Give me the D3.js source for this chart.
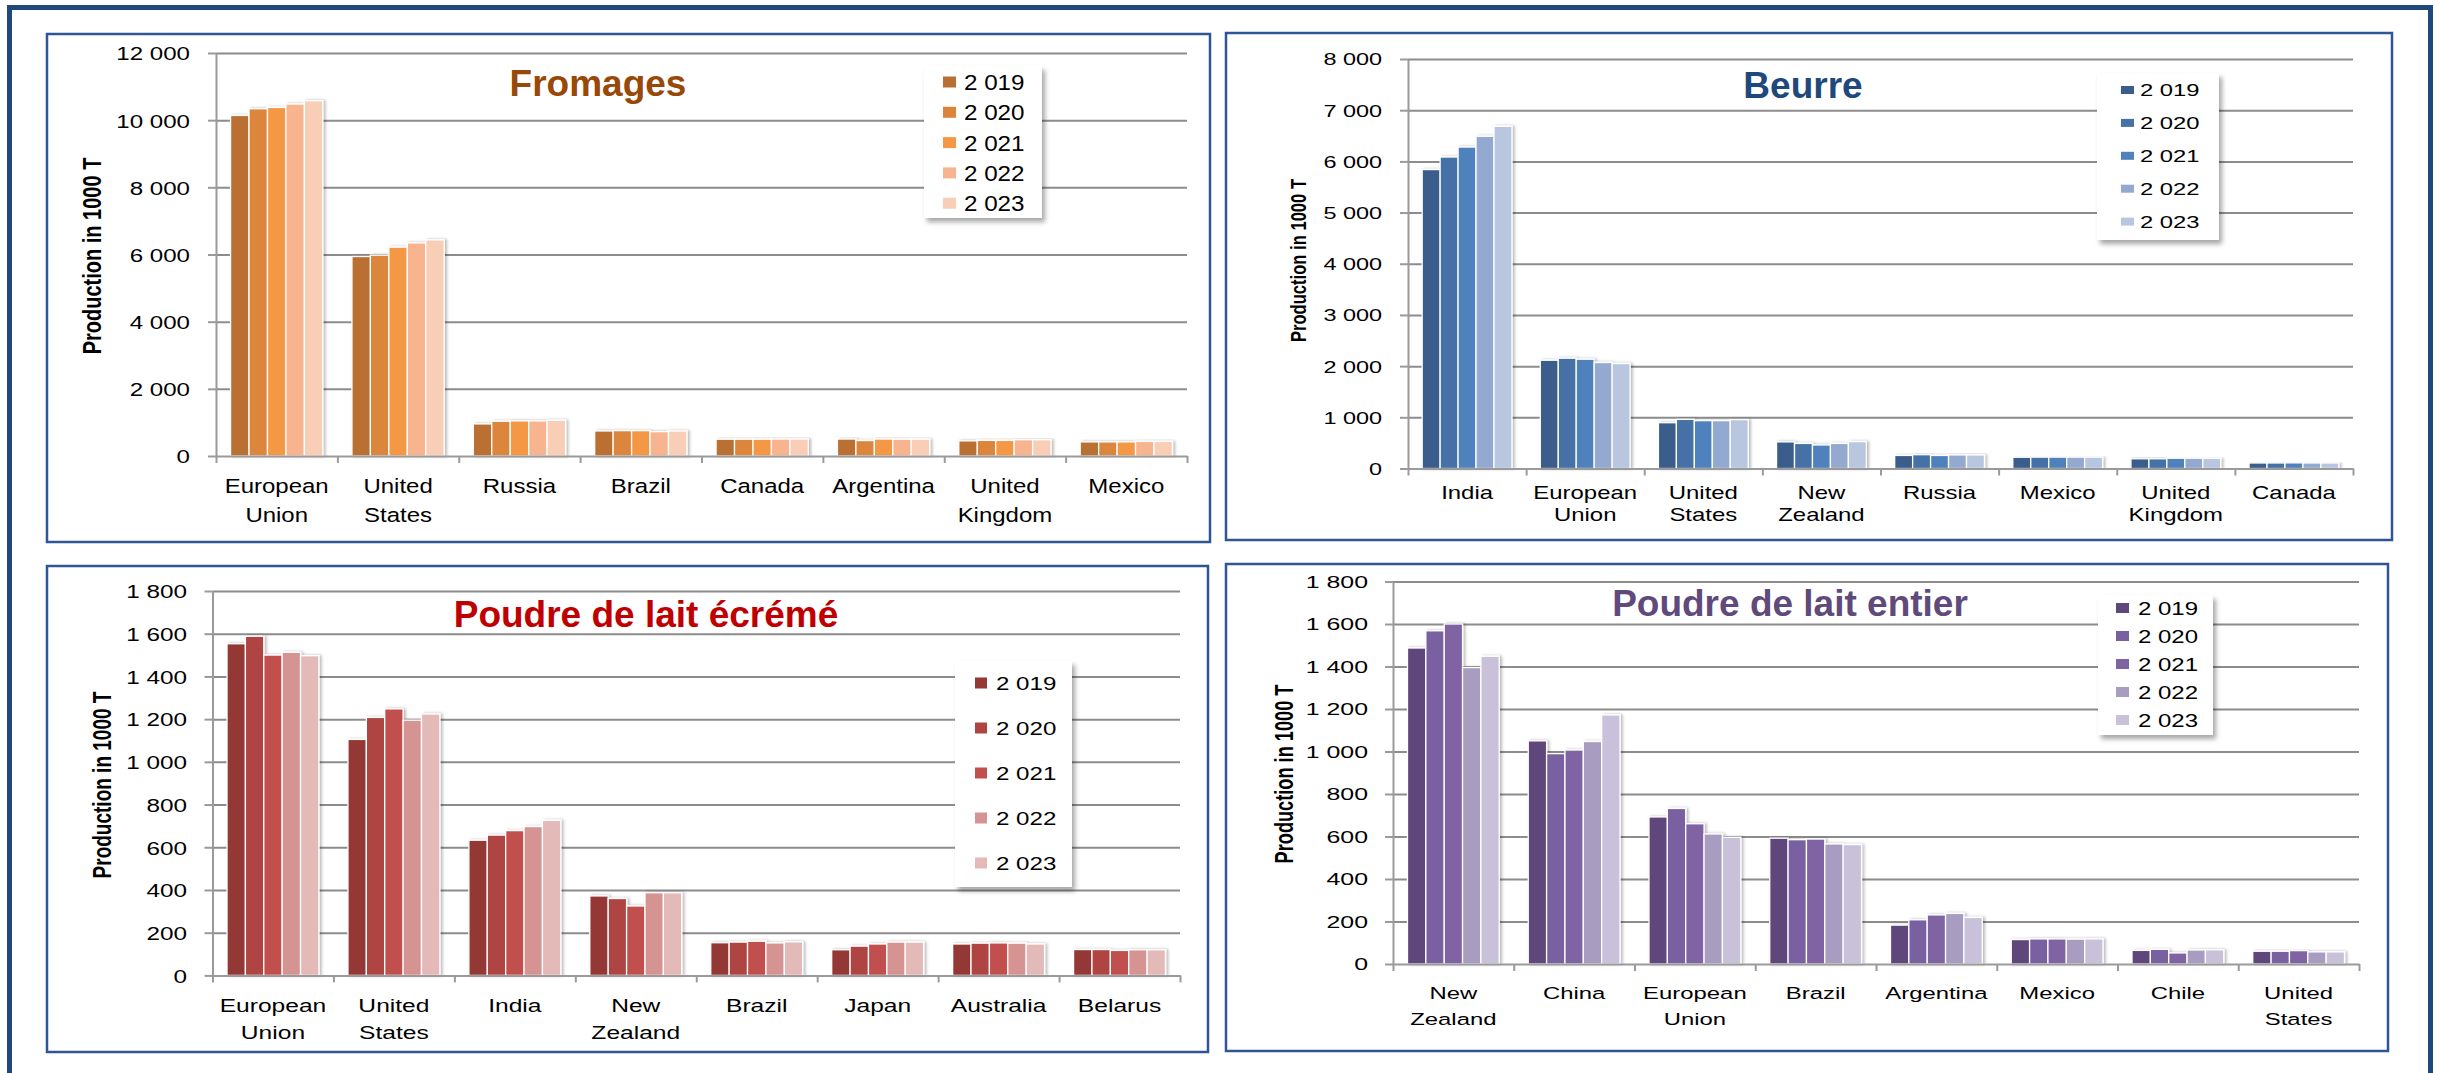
<!DOCTYPE html>
<html>
<head>
<meta charset="utf-8">
<script src="https://cdn.jsdelivr.net/npm/d3@7"></script>
<style>
body { margin: 0; background: #fff; }
svg { display: block; }
</style>
</head>
<body>
<svg id="chart" width="2443" height="1073"></svg>
<script>
// ---- data ----
var years = ["2 019", "2 020", "2 021", "2 022", "2 023"];

var fromagesCountries = ["European Union", "United States", "Russia", "Brazil", "Canada", "Argentina", "United Kingdom", "Mexico"];
var fromagesValues = [
  [10140, 10340, 10380, 10480, 10580],
  [5940, 5980, 6220, 6345, 6435],
  [955, 1035, 1045, 1045, 1065],
  [745, 755, 755, 725, 745],
  [500, 500, 500, 505, 505],
  [505, 460, 505, 500, 500],
  [450, 465, 465, 485, 485],
  [420, 420, 420, 435, 435]
];
var fromagesTicks = [0, 2000, 4000, 6000, 8000, 10000, 12000];
var fromagesColors = ["#B96F31", "#DB853C", "#F59845", "#F8B48F", "#F9CEB6"];

var beurreCountries = ["India", "European Union", "United States", "New Zealand", "Russia", "Mexico", "United Kingdom", "Canada"];
var beurreValues = [
  [5840, 6085, 6280, 6490, 6685],
  [2115, 2155, 2135, 2070, 2050],
  [895, 960, 935, 935, 955],
  [520, 490, 460, 490, 525],
  [255, 270, 255, 265, 265],
  [220, 222, 222, 222, 222],
  [190, 190, 200, 200, 200],
  [108, 108, 110, 108, 108]
];
var beurreTicks = [0, 1000, 2000, 3000, 4000, 5000, 6000, 7000, 8000];
var beurreColors = ["#3B5D8B", "#4571A7", "#4F81BD", "#93A9CF", "#B9C6E0"];

var ecremeCountries = ["European Union", "United States", "India", "New Zealand", "Brazil", "Japan", "Australia", "Belarus"];
var ecremeValues = [
  [1553, 1588, 1500, 1513, 1497],
  [1105, 1208, 1248, 1195, 1224],
  [633, 657, 678, 697, 726],
  [372, 360, 325, 387, 387],
  [153, 156, 160, 152, 157],
  [120, 137, 147, 156, 156],
  [147, 151, 152, 151, 147],
  [121, 121, 117, 120, 120]
];
var ecremeTicks = [0, 200, 400, 600, 800, 1000, 1200, 1400, 1600, 1800];
var ecremeColors = ["#943735", "#AE4542", "#C0504D", "#D59391", "#E4BAB9"];

var entierCountries = ["New Zealand", "China", "European Union", "Brazil", "Argentina", "Mexico", "Chile", "United States"];
var entierValues = [
  [1487, 1568, 1600, 1395, 1448],
  [1050, 990, 1007, 1047, 1172],
  [692, 732, 660, 612, 596],
  [592, 585, 588, 565, 562],
  [183, 208, 231, 238, 219],
  [115, 118, 118, 117, 118],
  [64, 69, 52, 66, 67],
  [60, 60, 63, 57, 57]
];
var entierTicks = [0, 200, 400, 600, 800, 1000, 1200, 1400, 1600, 1800];
var entierColors = ["#5E477B", "#7960A0", "#8064A2", "#A89CC1", "#C8C1D9"];

var yLabel = "Production in 1000 T";

// ---- setup ----
var svg = d3.select("#chart");
var FONT = "'Liberation Sans', Arial, sans-serif";

var fmt = d3.formatLocale({decimal: ",", thousands: " ", grouping: [3], currency: ["", ""]}).format(",d");

var defs = svg.append("defs");
defs.append("filter").attr("id", "barShadow")
    .attr("x", "-20%").attr("y", "-10%").attr("width", "150%").attr("height", "120%")
  .append("feDropShadow")
    .attr("dx", 2).attr("dy", 0).attr("stdDeviation", 1.5)
    .attr("flood-color", "#000").attr("flood-opacity", 0.28);
defs.append("filter").attr("id", "legendShadow")
    .attr("x", "-10%").attr("y", "-10%").attr("width", "130%").attr("height", "130%")
  .append("feDropShadow")
    .attr("dx", 3).attr("dy", 4).attr("stdDeviation", 2.5)
    .attr("flood-color", "#000").attr("flood-opacity", 0.35);

// outer frame (runs off the bottom of the picture)
svg.append("rect")
    .attr("x", 9.5).attr("y", 7.5)
    .attr("width", 2421).attr("height", 1120)
    .attr("fill", "none")
    .attr("stroke", "#1F497D")
    .attr("stroke-width", 5);

function drawPanel(p) {
  var g = svg.append("g");

  g.append("rect")
      .attr("x", p.box[0]).attr("y", p.box[1])
      .attr("width", p.box[2] - p.box[0]).attr("height", p.box[3] - p.box[1])
      .attr("fill", "#fff")
      .attr("stroke", "#2F5597")
      .attr("stroke-width", 2.5);

  var x = d3.scaleBand()
      .domain(p.countries)
      .range([p.left, p.right])
      .paddingInner(0.24)
      .paddingOuter(0.12);
  var x1 = d3.scaleBand().domain(years).range([0, x.bandwidth()]);
  var y = d3.scaleLinear()
      .domain([0, d3.max(p.ticks)])
      .range([p.bottom, p.top]);

  // gridlines
  var grid = g.append("g")
      .attr("transform", "translate(" + p.left + ",0)")
      .call(d3.axisLeft(y).tickValues(p.ticks.slice(1)).tickSize(-(p.right - p.left)).tickFormat(""));
  grid.select(".domain").remove();
  grid.selectAll("line").attr("stroke", "#8C8C8C").attr("stroke-width", 2);

  // y axis
  var ya = g.append("g")
      .attr("transform", "translate(" + p.left + ",0)")
      .call(d3.axisLeft(y).tickValues(p.ticks).tickSize(8).tickSizeOuter(0).tickFormat(fmt));
  ya.select(".domain").attr("stroke", "#9A9A9A").attr("stroke-width", 2);
  ya.selectAll("line").attr("stroke", "#9A9A9A").attr("stroke-width", 2);
  ya.selectAll("text")
      .attr("font-family", FONT)
      .attr("font-size", p.tickSize)
      .attr("fill", "#000")
      .attr("x", -p.tickPad / p.tickK)
      .attr("dy", "0.36em")
      .attr("transform", "scale(" + p.tickK + ",1)");

  // bars
  var groups = g.selectAll(".grp")
      .data(p.countries)
      .enter().append("g")
      .attr("class", "grp")
      .attr("transform", function(d) { return "translate(" + x(d) + ",0)"; })
      .attr("filter", "url(#barShadow)");
  groups.selectAll("rect")
      .data(function(d, i) { return p.values[i].map(function(v, j) { return {v: v, j: j}; }); })
      .enter().append("rect")
      .attr("x", function(d) { return x1(years[d.j]); })
      .attr("y", function(d) { return y(d.v); })
      .attr("width", x1.bandwidth())
      .attr("height", function(d) { return y(0) - y(d.v); })
      .attr("fill", function(d) { return p.colors[d.j]; })
      .attr("stroke", "#fff")
      .attr("stroke-width", 1.3);

  // x axis with ticks between categories
  var xb = d3.scaleLinear().domain([0, p.countries.length]).range([p.left, p.right]);
  var xa = g.append("g")
      .attr("transform", "translate(0," + p.bottom + ")")
      .call(d3.axisBottom(xb).tickValues(d3.range(p.countries.length + 1)).tickSize(7).tickSizeOuter(0).tickFormat(""));
  xa.select(".domain").attr("stroke", "#9A9A9A").attr("stroke-width", 2);
  xa.selectAll("line").attr("stroke", "#9A9A9A").attr("stroke-width", 2);

  // category labels
  p.countries.forEach(function(c) {
    var lines = c.split(" ");
    var t = g.append("text")
        .attr("transform", "translate(" + (x(c) + x.bandwidth() / 2) + "," + (p.bottom + p.catBase) + ") scale(" + p.catK + ",1)")
        .attr("text-anchor", "middle")
        .attr("font-family", FONT)
        .attr("font-size", p.catSize)
        .attr("fill", "#000");
    lines.forEach(function(l, i) {
      t.append("tspan").attr("x", 0).attr("y", i * p.catGap).text(l);
    });
  });

  // y title
  g.append("text")
      .attr("transform", "translate(" + p.yTitle[0] + "," + p.yTitle[1] + ") rotate(-90) scale(1," + p.yTitleK + ")")
      .attr("text-anchor", "middle")
      .attr("dy", "0.36em")
      .attr("font-family", FONT)
      .attr("font-weight", "bold")
      .attr("font-size", p.yTitleSize)
      .attr("fill", "#000")
      .text(yLabel);

  // title
  g.append("text")
      .attr("x", p.title[0]).attr("y", p.title[1])
      .attr("text-anchor", "middle")
      .attr("font-family", FONT)
      .attr("font-weight", "bold")
      .attr("font-size", 37)
      .attr("fill", p.titleColor)
      .text(p.name);

  // legend
  var L = p.legend;
  g.append("rect")
      .attr("x", L.box[0]).attr("y", L.box[1])
      .attr("width", L.box[2] - L.box[0]).attr("height", L.box[3] - L.box[1])
      .attr("fill", "#fff")
      .attr("filter", "url(#legendShadow)");
  var items = g.selectAll(".leg")
      .data(years)
      .enter().append("g")
      .attr("class", "leg")
      .attr("transform", function(d, i) { return "translate(0," + (L.first + i * L.step) + ")"; });
  items.append("rect")
      .attr("x", L.sx)
      .attr("y", -L.sh / 2)
      .attr("width", L.sw)
      .attr("height", L.sh)
      .attr("fill", function(d, i) { return p.colors[i]; });
  items.append("text")
      .attr("transform", "translate(" + L.tx + ",0) scale(" + L.k + ",1)")
      .attr("dy", "0.36em")
      .attr("font-family", FONT)
      .attr("font-size", L.size)
      .attr("fill", "#000")
      .text(function(d) { return d; });
}

drawPanel({
  name: "Fromages", titleColor: "#984807", title: [598, 96],
  countries: fromagesCountries, values: fromagesValues, ticks: fromagesTicks, colors: fromagesColors,
  box: [47, 34, 1210, 542],
  left: 216, right: 1187, top: 53, bottom: 456,
  tickSize: 19, tickK: 1.27, tickPad: 26,
  catSize: 20.5, catK: 1.17, catBase: 37, catGap: 29,
  yTitle: [92, 256], yTitleSize: 20, yTitleK: 1.27,
  legend: {box: [924, 66, 1042, 218], first: 82, step: 30.3, sx: 943, sw: 13, sh: 11, tx: 964, size: 22, k: 1.1}
});

drawPanel({
  name: "Beurre", titleColor: "#1F497D", title: [1803, 98],
  countries: beurreCountries, values: beurreValues, ticks: beurreTicks, colors: beurreColors,
  box: [1226, 33, 2392, 540],
  left: 1408, right: 2353, top: 59, bottom: 468.5,
  tickSize: 16.5, tickK: 1.42, tickPad: 26,
  catSize: 18, catK: 1.33, catBase: 30.5, catGap: 22.5,
  yTitle: [1298, 260.5], yTitleSize: 16.6, yTitleK: 1.33,
  legend: {box: [2097, 73, 2219, 240], first: 90, step: 32.9, sx: 2121, sw: 13, sh: 8, tx: 2140, size: 17, k: 1.4}
});

drawPanel({
  name: "Poudre de lait écrémé", titleColor: "#C00000", title: [646, 627],
  countries: ecremeCountries, values: ecremeValues, ticks: ecremeTicks, colors: ecremeColors,
  box: [47, 566, 1208, 1052],
  left: 212.5, right: 1180, top: 591, bottom: 975.4,
  tickSize: 19, tickK: 1.28, tickPad: 25.5,
  catSize: 18.5, catK: 1.33, catBase: 37, catGap: 27,
  yTitle: [102, 785], yTitleSize: 19, yTitleK: 1.35,
  legend: {box: [955, 661, 1072, 887], first: 683, step: 45, sx: 975, sw: 12, sh: 11, tx: 996, size: 19, k: 1.27}
});

drawPanel({
  name: "Poudre de lait entier", titleColor: "#604A7B", title: [1790, 616],
  countries: entierCountries, values: entierValues, ticks: entierTicks, colors: entierColors,
  box: [1226, 564, 2388, 1051],
  left: 1393, right: 2359, top: 581.5, bottom: 964,
  tickSize: 16.6, tickK: 1.5, tickPad: 25,
  catSize: 16.6, catK: 1.44, catBase: 35, catGap: 26,
  yTitle: [1283, 774], yTitleSize: 18.2, yTitleK: 1.45,
  legend: {box: [2098, 595, 2213, 735], first: 608, step: 28, sx: 2116, sw: 13, sh: 10, tx: 2138, size: 18.6, k: 1.29}
});
</script>
</body>
</html>
